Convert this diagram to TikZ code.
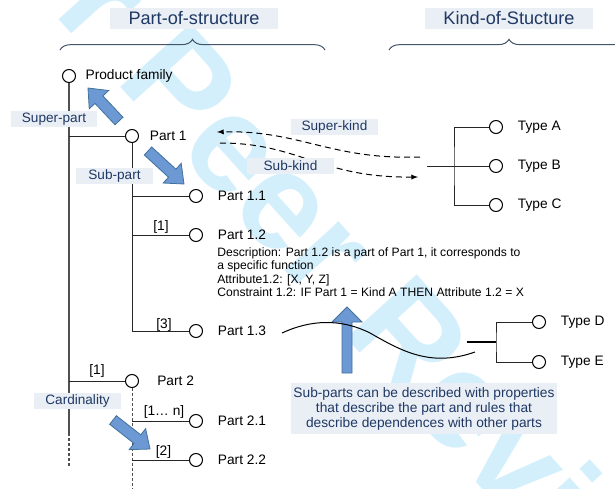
\documentclass[tikz,border=0pt]{standalone}
\usepackage{fontspec}
\setmainfont{Liberation Sans}
\usetikzlibrary{positioning,calc,decorations.pathreplacing}

\definecolor{labelblue}{RGB}{31,56,100}
\definecolor{labelfill}{RGB}{234,239,245}
\definecolor{arrowfill}{RGB}{108,152,212}
\definecolor{arrowline}{RGB}{65,113,156}
\definecolor{bracecol}{RGB}{68,84,106}
\definecolor{wmark}{RGB}{212,239,252}
\definecolor{treeline}{RGB}{80,80,80}

\tikzset{
  dot/.style={circle,draw,fill=white,inner sep=0pt,minimum size=9.75pt,line width=0.75pt},
  lbl/.style={inner sep=0pt,font=\fontsize{10.3}{12}\selectfont},
  card/.style={inner sep=0pt,font=\fontsize{10.3}{12}\selectfont},
  tag/.style={fill=labelfill,text=labelblue,inner sep=0pt,minimum width=65pt,
    minimum height=12pt,font=\fontsize{10.2}{12}\selectfont},
  heading/.style={fill=labelfill,text=labelblue,inner sep=0pt,minimum width=126pt,
    minimum height=15.75pt,font=\fontsize{13.6}{16}\selectfont},
  barrow/.style={draw=arrowline,fill=arrowfill,line width=0.6pt},
  kindarrow/.style={dash pattern=on 4.5pt off 3pt,line width=0.75pt,-latex},
  branch/.style={draw=black!85,line width=0.75pt},
  trunk/.style={draw=treeline,line width=1.1pt},
  fade/.style={dash pattern=on 2.25pt off 1.5pt},
  brace/.style={draw=bracecol,line width=0.75pt,decorate,
    decoration={brace,amplitude=8pt}},
}

% block arrow: tail, tip, half shaft, half head, head length
\newcommand\blockarr[5]{%
  \coordinate (ba-a) at (#1);
  \coordinate (ba-b) at (#2);
  \coordinate (ba-n) at ($(ba-b)!#5!(ba-a)$);
  \draw[barrow] ($(ba-a)!#3!90:(ba-b)$) -- ($(ba-n)!#3!-90:(ba-a)$)
    -- ($(ba-n)!#4!-90:(ba-a)$) -- (ba-b) -- ($(ba-n)!#4!90:(ba-a)$)
    -- ($(ba-n)!#3!90:(ba-a)$) -- ($(ba-a)!#3!-90:(ba-b)$) -- cycle;
}

\begin{document}
\begin{tikzpicture}[x=0.75pt,y=-0.75pt]
  \useasboundingbox (0,0) rectangle (615,489);
  \clip (0,0) rectangle (615,489);

  % watermark
  \node[text=wmark,inner sep=0pt,rotate=-48,font=\bfseries\fontsize{103.5}{104}\selectfont]
    (wm) at (336,253) {For Peer Review};

  % headings
  \node[heading] (pos) at (194,18.5) {Part-of-structure};
  \node[heading] (kos) at (509,18.5) {Kind-of-Stucture};
  \draw[brace] (60,50) -- (325,50);
  \draw[brace] (389,50) -- (629,50);

  % part-of tree
  \node[dot] (pf) at (69,76) {};
  \node[dot] (p1) at (132,136) {};
  \node[dot] (p11) at (196,196) {};
  \node[dot] (p12) at (196,235) {};
  \node[dot] (p13) at (196,331) {};
  \node[dot] (p2) at (132,381) {};
  \node[dot] (p21) at (196,421) {};
  \node[dot] (p22) at (196,460) {};
  \coordinate (trunkend) at (69,433);
  \coordinate (trunkfade) at (69,466);
  \coordinate (p2end) at (132,489);

  \draw[trunk] (pf) -- (trunkend);
  \draw[trunk,fade] (trunkend) -- (trunkfade);
  \draw[branch] (pf |- p1) -- (p1);
  \draw[branch] (p1) |- (p13);
  \draw[branch] (p1 |- p11) -- (p11);
  \draw[branch] (p1 |- p12) -- (p12);
  \draw[branch] (pf |- p2) -- (p2);
  \draw[branch,draw=treeline,fade] (p2) -- (p2end);
  \draw[branch] (p2 |- p21) -- (p21);
  \draw[branch] (p2 |- p22) -- (p22);

  \node[lbl,right=7pt of pf] (pf-l) {Product family};
  \node[lbl,right=8pt of p1] (p1-l) {Part 1};
  \node[lbl,right=11pt of p11] (p11-l) {Part 1.1};
  \node[lbl,right=11pt of p12] (p12-l) {Part 1.2};
  \node[lbl,right=11pt of p13] (p13-l) {Part 1.3};
  \node[lbl,right=13.5pt of p2] (p2-l) {Part 2};
  \node[lbl,right=11pt of p21] (p21-l) {Part 2.1};
  \node[lbl,right=11pt of p22] (p22-l) {Part 2.2};

  \node[inner sep=0pt,anchor=north west,align=left,font=\fontsize{9.1}{10}\selectfont]
    (descr) at (217,247.5) {Description: Part 1.2 is a part of Part 1, it corresponds to\\
    a specific function\\
    Attribute1.2: [X, Y, Z]\\
    Constraint 1.2: IF Part 1 = Kind A THEN Attribute 1.2 = X};

  \node[card] (c12) at (161,227) {[1]};
  \node[card] (c13) at (164,325) {[3]};
  \node[card] (c2) at (97,371) {[1]};
  \node[card] (c21) at (164,412) {[1… n]};
  \node[card] (c22) at (163.5,452) {[2]};

  % kind-of trees
  \node[dot] (ta) at (496,127) {};
  \node[dot] (tb) at (496,166) {};
  \node[dot] (tc) at (496,205) {};
  \coordinate (kindroot) at (427,166);
  \coordinate (kindfork) at (454,166);
  \draw[branch] (kindroot) -- (tb);
  \draw[branch] (ta) -| (kindfork) |- (tc);
  \node[lbl,right=11pt of ta] (ta-l) {Type A};
  \node[lbl,right=11pt of tb] (tb-l) {Type B};
  \node[lbl,right=11pt of tc] (tc-l) {Type C};

  \node[dot] (td) at (539,322) {};
  \node[dot] (te) at (539,362) {};
  \coordinate (stubl) at (467,342);
  \coordinate (stubr) at (496,342);
  \draw[line width=1.5pt] (stubl) -- (stubr);
  \draw[branch] (td) -| (stubr) |- (te);
  \node[lbl,right=11pt of td] (td-l) {Type D};
  \node[lbl,right=11pt of te] (te-l) {Type E};

  % kind arrows
  \coordinate (supfrom) at (420,157);
  \coordinate (supto) at (217,132);
  \coordinate (subfrom) at (220,143);
  \coordinate (subto) at (418,177);
  \draw[kindarrow] (supfrom) .. controls (330,160) and (300,130) .. (supto);
  \draw[kindarrow] (subfrom) .. controls (300,143) and (320,178) .. (subto);

  % tags
  \node[tag] (superpart) at (54,119) {Super-part};
  \node[tag,minimum width=58pt] (subpart) at (114.5,175.5) {Sub-part};
  \node[tag] (superkind) at (334.5,127) {Super-kind};
  \node[tag] (subkind) at (290.5,166) {Sub-kind};
  \node[tag] (cardin) at (77.5,401) {Cardinality};
  \node[tag,minimum width=199.5pt,minimum height=38.25pt,align=center,
    font=\fontsize{10.3}{11.25}\selectfont] (note) at (424,408.5)
    {Sub-parts can be described with properties\\that describe the part and rules that\\describe dependences with other parts};

  % block arrows
  \blockarr{119,121}{88,88}{4.1pt}{10pt}{12pt}
  \blockarr{148,151}{184,184}{4.1pt}{10pt}{12pt}
  \blockarr{113,420}{150,449}{4.1pt}{10pt}{12pt}
  \blockarr{347,373}{347,307}{3.75pt}{11.25pt}{11.25pt}

  % wave
  \coordinate (wavestart) at (282,333);
  \coordinate (waveend) at (475,352);
  \draw[line width=0.75pt] (wavestart) .. controls (310,320) and (340,318) .. (370,333)
    .. controls (400,350) and (430,368) .. (waveend);
\end{tikzpicture}
\end{document}
